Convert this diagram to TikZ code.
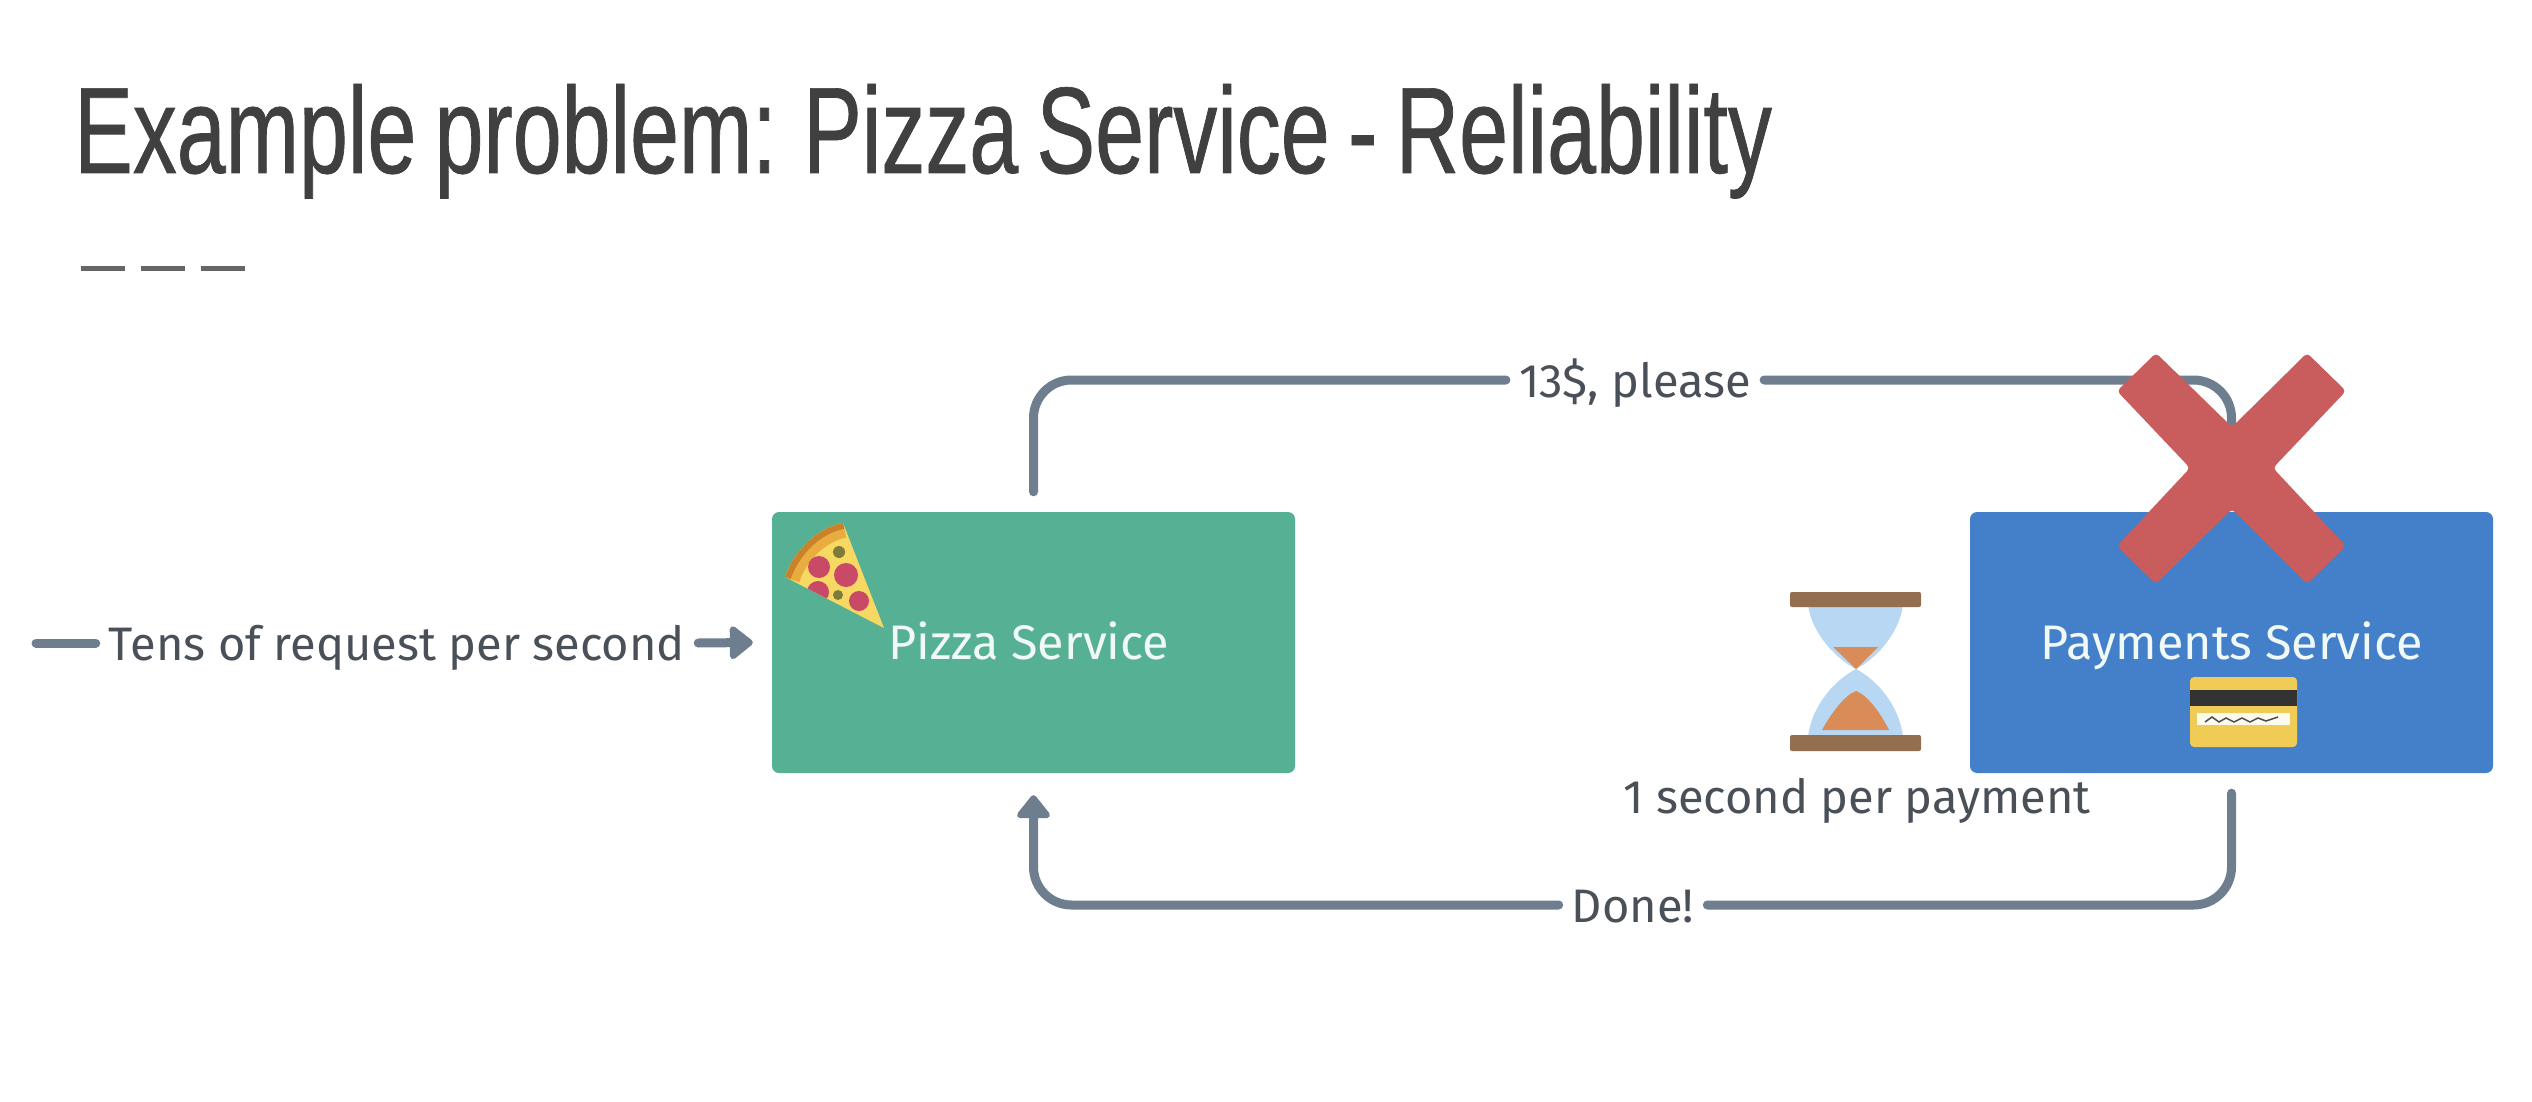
\documentclass[tikz,border=0pt]{standalone}
\usepackage{fontspec}
\usetikzlibrary{arrows.meta}
\setmainfont{Fira Sans}
\newfontfamily\titlefont[FakeStretch=0.715,FakeBold=0.6,WordSpace=0.75]{Liberation Sans}
\definecolor{linec}{HTML}{6F7E8E}
\definecolor{labelc}{HTML}{4A5058}
\definecolor{greenbox}{HTML}{56B093}
\definecolor{bluebox}{HTML}{447FC9}
\definecolor{redx}{HTML}{C95C5C}
\definecolor{capc}{HTML}{936F4E}
\definecolor{glassc}{HTML}{B7D7F3}
\definecolor{sandc}{HTML}{D98B58}
\definecolor{cardc}{HTML}{F0CB55}
\definecolor{crustc}{HTML}{C9822A}
\definecolor{crustl}{HTML}{E9AC40}
\definecolor{cheesec}{HTML}{F6D863}
\definecolor{pepc}{HTML}{C94A66}
\definecolor{olivec}{HTML}{7D7A3A}
\tikzset{
  servicebox/.style={rounded corners=7pt,minimum width=523pt,minimum height=261pt,inner sep=0pt},
  servicetext/.style={text=white!92!greenbox,inner sep=0pt,text height=34pt,text depth=0pt,font=\fontsize{48.5}{54}\selectfont},
  flowlabel/.style={inner xsep=13pt,inner ysep=0pt,text height=34pt,text depth=0pt,text=labelc,font=\fontsize{47}{54}\selectfont},
  flow/.style={draw=linec,line width=9pt,line cap=round,rounded corners=38pt},
  tip/.style={-{Triangle[length=25pt,width=38pt,round]}}
}
\begin{document}
\begin{tikzpicture}[x=1pt,y=-1pt]
\useasboundingbox (0,0) rectangle (2532,1102);
\fill[white] (0,0) rectangle (2532,1102);
% title
\node[anchor=base west,inner sep=0pt,text=black!75,font=\titlefont\fontsize{123}{130}\selectfont] (title) at (74,173) {Example problem: Pizza Service - Reliability};
\foreach \a in {81,141,201}{\fill[black!60] (\a,266) rectangle ++(44,5);}
% boxes
\node[servicebox,fill=greenbox] (pizza) at (1033.5,642.5) {};
\node[servicebox,fill=bluebox] (pay) at (2231.5,642.5) {};
\node[servicetext] (pizzatxt) at (1029,642) {Pizza Service};
\node[servicetext] (paytxt) at (2232,642) {Payments Service};
% labels
\node[flowlabel] (in) at (397,643) {Tens of request per second};
\node[flowlabel] (req) at (1635,380) {13\$, please};
\node[flowlabel] (done) at (1633,905) {Done!};
\node[flowlabel] (sec) at (1857,796) {1 second per payment};
\coordinate (src) at (36,643);
% connectors
\draw[flow] (src) -- (in.west);
\draw[flow,tip] (in.east) -- ([xshift=-19pt]pizza.west);
\draw[flow,shorten <=20pt] (pizza.north) |- (req.west);
\draw[flow,shorten >=60pt] (req.east) -| (pay.north);
\draw[flow,shorten <=20pt] (pay.south) |- (done.east);
\draw[flow,tip,shorten >=22pt] (done.west) -| (pizza.south);
% red cross
\fill[redx,rounded corners=4pt] (2156,353) -- (2232,427) -- (2307,353) -- (2346,391) -- (2273,468) -- (2346,546) -- (2307,584) -- (2232,509) -- (2156,584) -- (2117,546) -- (2190,468) -- (2117,391) -- cycle;
% hourglass
\fill[glassc] (1808,605) .. controls (1812,635) and (1838,660) .. (1856,669) .. controls (1874,660) and (1899,635) .. (1903,605) -- cycle;
\fill[glassc] (1808,737) .. controls (1812,703) and (1838,678) .. (1856,669) .. controls (1874,678) and (1899,703) .. (1903,737) -- cycle;
\fill[sandc] (1833,647) -- (1878,647) -- (1856,669) -- cycle;
\fill[sandc] (1822,730) .. controls (1832,712) and (1845,695) .. (1856,691) .. controls (1867,695) and (1880,712) .. (1889,730) -- cycle;
\fill[capc,rounded corners=2pt] (1790,592) rectangle (1921,607);
\fill[capc,rounded corners=2pt] (1790,735) rectangle (1921,751);
% credit card
\fill[cardc,rounded corners=4pt] (2190,677) rectangle (2297,747);
\fill[black!80] (2190,690) rectangle (2297,706);
\fill[white!90!cardc] (2197,713) rectangle (2290,725);
\draw[black!70,line width=1.5pt] (2205,722) -- (2212,717) -- (2219,722) -- (2226,718) -- (2234,722) -- (2242,718) -- (2250,722) -- (2258,718) -- (2266,721) -- (2278,717);
% pizza slice
\begin{scope}
\clip (884,628) -- (843,523) .. controls (820,527) and (795,548) .. (785,577) -- cycle;
\fill[cheesec] (770,500) rectangle (900,640);
\draw[crustl,line width=30pt] (843,523) .. controls (820,527) and (795,548) .. (785,577);
\fill[pepc] (819,567) circle (11);
\fill[pepc] (846,575) circle (12);
\fill[pepc] (818,592) circle (11);
\fill[pepc] (859,601) circle (10);
\fill[olivec] (839,552) circle (6);
\fill[olivec] (838,595) circle (5);
\draw[crustc,line width=12pt] (843,523) .. controls (820,527) and (795,548) .. (785,577);
\end{scope}
\end{tikzpicture}
\end{document}
